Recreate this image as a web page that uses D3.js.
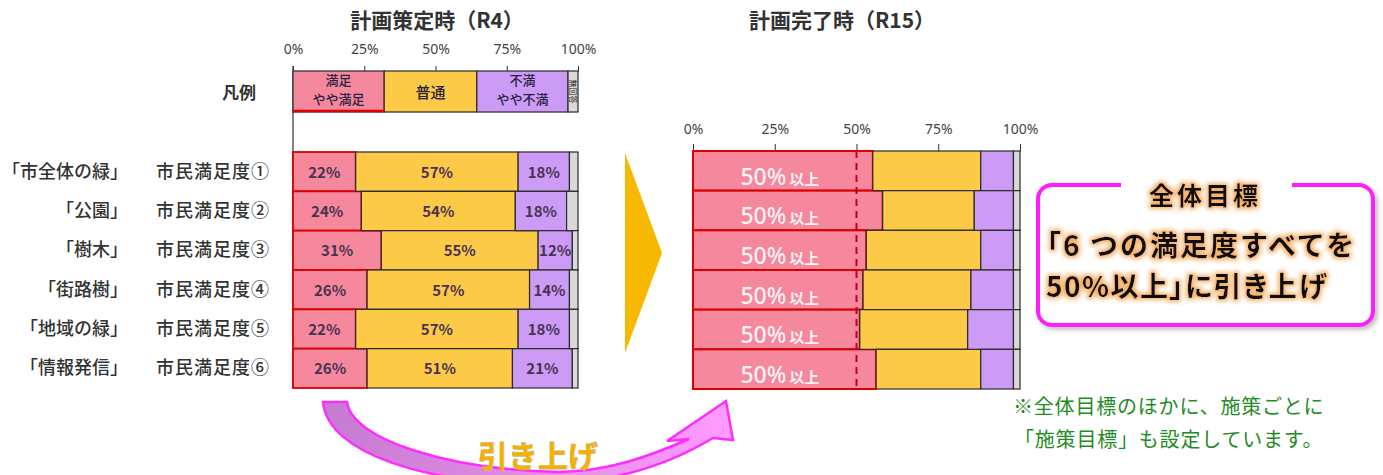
<!DOCTYPE html>
<html>
<head>
<meta charset="utf-8">
<script src="https://cdn.jsdelivr.net/npm/d3@7"></script>
<style>
  body { margin: 0; background: #fff; }
  text { font-family: "Noto Sans CJK JP", "Noto Sans", sans-serif; }
</style>
</head>
<body>
<svg id="canvas"></svg>
<script>
// rows
const categories = ["「市全体の緑」", "「公園」", "「樹木」", "「街路樹」", "「地域の緑」", "「情報発信」"];
const indexLabels = ["市民満足度①", "市民満足度②", "市民満足度③", "市民満足度④", "市民満足度⑤", "市民満足度⑥"];
const keys = ["satisfied", "neutral", "dissatisfied", "noAnswer"];
const legendNames = ["満足\nやや満足", "普通", "不満\nやや不満", "無回答"];
const legendShares = [32, 32.5, 32, 3.5];
const ticks = [0, 25, 50, 75, 100];

// R4 (計画策定時)
const r4Satisfied = [22, 24, 31, 26, 22, 26];
const r4Neutral = [57, 54, 55, 57, 57, 51];
const r4Dissatisfied = [18, 18, 12, 14, 18, 21];
const r4NoAnswer = [3, 4, 2, 3, 3, 2];

// R15 (計画完了時) target picture
const r15Satisfied = [55, 58, 53, 52, 51, 56];
const r15Neutral = [33, 28, 35, 33, 33, 32];
const r15Dissatisfied = [10, 12, 10, 13, 14, 10];
const r15NoAnswer = [2, 2, 2, 2, 2, 2];
const targetLine = 50;

const width = 1383, height = 475;
const svg = d3.select("#canvas").attr("width", width).attr("height", height);

const color = d3.scaleOrdinal().domain(keys).range(["#f5889d", "#fdca47", "#cb9bf6", "#d9d9d9"]);
const strokeOf = k => k === "satisfied" ? "#d80000" : "#2a2a2a";

const toRows = (a, b, c, d) => categories.map((cat, i) => ({
  cat, satisfied: a[i], neutral: b[i], dissatisfied: c[i], noAnswer: d[i]
}));
const stack = d3.stack().keys(keys);
const seriesR4 = stack(toRows(r4Satisfied, r4Neutral, r4Dissatisfied, r4NoAnswer));
const seriesR15 = stack(toRows(r15Satisfied, r15Neutral, r15Dissatisfied, r15NoAnswer));

// defs: glow, gradient
const defs = svg.append("defs");
const glow = defs.append("filter").attr("id", "glow").attr("x", "-10%").attr("y", "-30%").attr("width", "120%").attr("height", "160%");
glow.append("feMorphology").attr("in", "SourceAlpha").attr("operator", "dilate").attr("radius", 1.5).attr("result", "thick");
glow.append("feGaussianBlur").attr("in", "thick").attr("stdDeviation", 2).attr("result", "blur");
glow.append("feFlood").attr("flood-color", "#f7b26a");
glow.append("feComposite").attr("in2", "blur").attr("operator", "in").attr("result", "halo");
const gm = glow.append("feMerge");
gm.append("feMergeNode").attr("in", "halo");
gm.append("feMergeNode").attr("in", "SourceGraphic");

const shadow = defs.append("filter").attr("id", "shadow").attr("x", "-5%").attr("y", "-5%").attr("width", "115%").attr("height", "120%");
shadow.append("feDropShadow").attr("dx", 3).attr("dy", 3).attr("stdDeviation", 2).attr("flood-color", "#999").attr("flood-opacity", 0.6);

const grad = defs.append("linearGradient").attr("id", "arrowGrad").attr("x1", "0%").attr("x2", "100%");
grad.append("stop").attr("offset", "0%").attr("stop-color", "#c57ad0");
grad.append("stop").attr("offset", "100%").attr("stop-color", "#ff9cff");

// ---------- left chart (R4) ----------
const xL = d3.scaleLinear().domain([0, 100]).range([293, 578]);
const yL = d3.scaleBand().domain(categories).range([152, 388]);
const legendTop = 71, legendBottom = 112;

svg.append("text").attr("x", 437).attr("y", 28).attr("text-anchor", "middle")
  .attr("font-size", 21).attr("font-weight", "bold").attr("fill", "#333").text("計画策定時（R4）");

svg.append("line").attr("x1", xL(0)).attr("x2", xL(0)).attr("y1", legendTop - 5).attr("y2", 388)
  .attr("stroke", "#333").attr("stroke-width", 1.2);

const axL = svg.append("g").attr("transform", `translate(0,${legendTop})`)
  .call(d3.axisTop(xL).tickValues(ticks).tickFormat(d => d + "%").tickSize(5).tickPadding(12));
axL.select(".domain").attr("stroke", "#333");
axL.selectAll(".tick line").attr("stroke", "#333");
axL.selectAll(".tick text").attr("font-size", 14).attr("fill", "#444")
  .style("font-family", "'Noto Sans', sans-serif");

// legend bar
let acc = 0;
const legendData = legendShares.map((s, i) => { const o = { key: keys[i], name: legendNames[i], x0: acc, x1: acc + s }; acc += s; return o; });
const lg = svg.append("g");
lg.selectAll("rect").data(legendData).join("rect")
  .attr("x", d => xL(d.x0)).attr("width", d => xL(d.x1) - xL(d.x0))
  .attr("y", legendTop).attr("height", legendBottom - legendTop)
  .attr("fill", d => color(d.key)).attr("stroke", "#2a2a2a").attr("stroke-width", 1.2);
lg.append("line").attr("x1", xL(0)).attr("x2", xL(legendShares[0])).attr("y1", legendBottom - 1).attr("y2", legendBottom - 1)
  .attr("stroke", "#e00000").attr("stroke-width", 2.5);
legendData.slice(0, 3).forEach(d => {
  const lines = d.name.split("\n");
  const cx = (xL(d.x0) + xL(d.x1)) / 2;
  lines.forEach((ln, j) => {
    lg.append("text").attr("x", cx)
      .attr("y", lines.length === 1 ? (legendTop + legendBottom) / 2 + 6 : legendTop + 14 + j * 19)
      .attr("text-anchor", "middle").attr("font-size", lines.length === 1 ? 15 : 13)
      .attr("font-weight", 500).attr("fill", "#2a2040").text(ln);
  });
});
const naX = (xL(legendData[3].x0) + xL(legendData[3].x1)) / 2;
lg.append("text").attr("transform", `translate(${naX},${(legendTop + legendBottom) / 2}) rotate(90)`)
  .attr("text-anchor", "middle").attr("dy", 3).attr("font-size", 8).attr("fill", "#222").text(legendNames[3]);
svg.append("text").attr("x", 256).attr("y", 99).attr("text-anchor", "end")
  .attr("font-size", 17).attr("font-weight", "bold").attr("fill", "#333").text("凡例");

// row labels
svg.append("g").selectAll("text").data(categories).join("text")
  .attr("x", 128).attr("y", d => yL(d) + yL.bandwidth() / 2 + 6).attr("text-anchor", "end")
  .attr("font-size", 18).attr("font-weight", 500).attr("fill", "#333").text(d => d);
svg.append("g").selectAll("text").data(indexLabels).join("text")
  .attr("x", 156).attr("y", (d, i) => yL(categories[i]) + yL.bandwidth() / 2 + 6)
  .attr("font-size", 18).attr("font-weight", 500).attr("fill", "#333").attr("letter-spacing", 1).text(d => d);

// R4 bars
const barsL = svg.append("g");
seriesR4.forEach(layer => {
  const k = layer.key;
  barsL.append("g").selectAll("rect").data(layer).join("rect")
    .attr("x", d => xL(d[0])).attr("width", d => xL(d[1]) - xL(d[0]))
    .attr("y", d => yL(d.data.cat)).attr("height", yL.bandwidth())
    .attr("fill", color(k)).attr("stroke", strokeOf(k)).attr("stroke-width", k === "satisfied" ? 1.8 : 1.2);
});
seriesR4.filter(l => l.key !== "noAnswer").forEach(layer => {
  barsL.append("g").selectAll("text").data(layer).join("text")
    .attr("x", d => (xL(d[0]) + xL(d[1])) / 2).attr("y", d => yL(d.data.cat) + yL.bandwidth() / 2 + 6)
    .attr("text-anchor", "middle").attr("font-size", 15).attr("font-weight", "bold")
    .attr("fill", "#4a3352").text(d => (d[1] - d[0]) + "%");
});

// big yellow arrow
svg.append("path").attr("d", "M625,153 L662,253 L625,353 Z").attr("fill", "#f7b900");

// ---------- right chart (R15) ----------
const xR = d3.scaleLinear().domain([0, 100]).range([693, 1020]);
const yR = d3.scaleBand().domain(categories).range([151, 389]);

svg.append("text").attr("x", 842).attr("y", 28).attr("text-anchor", "middle")
  .attr("font-size", 21).attr("font-weight", "bold").attr("fill", "#333").text("計画完了時（R15）");

const axR = svg.append("g").attr("transform", `translate(0,${yR.range()[0]})`)
  .call(d3.axisTop(xR).tickValues(ticks).tickFormat(d => d + "%").tickSize(7).tickPadding(10));
axR.select(".domain").attr("stroke", "#333");
axR.selectAll(".tick line").attr("stroke", "#333");
axR.selectAll(".tick text").attr("font-size", 14).attr("fill", "#444")
  .style("font-family", "'Noto Sans', sans-serif");

const barsR = svg.append("g");
seriesR15.forEach(layer => {
  const k = layer.key;
  barsR.append("g").selectAll("rect").data(layer).join("rect")
    .attr("x", d => xR(d[0])).attr("width", d => xR(d[1]) - xR(d[0]))
    .attr("y", d => yR(d.data.cat)).attr("height", yR.bandwidth())
    .attr("fill", color(k)).attr("stroke", strokeOf(k)).attr("stroke-width", k === "satisfied" ? 2 : 1.2);
});
svg.append("line").attr("x1", xR(targetLine)).attr("x2", xR(targetLine))
  .attr("y1", yR.range()[0]).attr("y2", yR.range()[1])
  .attr("stroke", "#c0002a").attr("stroke-width", 2).attr("stroke-dasharray", "7 5");
const lbl = barsR.append("g").selectAll("text").data(categories).join("text")
  .attr("x", xR(14.5)).attr("y", d => yR(d) + yR.bandwidth() - 6)
  .attr("fill", "#fff").attr("fill-opacity", 0.92).style("font-family", "'Noto Sans', sans-serif");
lbl.append("tspan").attr("font-size", 23).attr("font-weight", 500).text("50%");
lbl.append("tspan").attr("font-size", 15).attr("font-weight", "bold").attr("dx", 3)
  .style("font-family", "'Noto Sans CJK JP', sans-serif").text("以上");

// ---------- callout box ----------
const box = svg.append("g");
box.append("rect").attr("x", 1038).attr("y", 185).attr("width", 335).attr("height", 140).attr("rx", 14)
  .attr("fill", "#fff").attr("stroke", "#ff1aff").attr("stroke-width", 4).attr("filter", "url(#shadow)");
box.append("rect").attr("x", 1121).attr("y", 178).attr("width", 171).attr("height", 14).attr("fill", "#fff");
box.append("text").attr("x", 1205).attr("y", 205).attr("text-anchor", "middle").attr("font-size", 25)
  .attr("font-weight", "bold").attr("letter-spacing", 3).attr("fill", "#111").attr("filter", "url(#glow)").text("全体目標");
box.append("text").attr("x", 1033).attr("y", 256).attr("font-size", 28).attr("letter-spacing", 2)
  .attr("font-weight", "bold").attr("fill", "#111").attr("filter", "url(#glow)").text("「6 つの満足度すべてを");
box.append("text").attr("x", 1046).attr("y", 297).attr("font-size", 28).attr("letter-spacing", 1.5)
  .attr("font-weight", "bold").attr("fill", "#111").attr("filter", "url(#glow)")
  .style("font-feature-settings", "'palt'").text("50%以上」に引き上げ");

// note
svg.append("text").attr("x", 1013).attr("y", 414).attr("font-size", 20).attr("letter-spacing", 0.8)
  .attr("fill", "#1f8c24").text("※全体目標のほかに、施策ごとに");
svg.append("text").attr("x", 1014).attr("y", 447).attr("font-size", 20).attr("letter-spacing", 0.8)
  .attr("fill", "#1f8c24").text("「施策目標」も設定しています。");

// ---------- curved arrow ----------
svg.append("path")
  .attr("d", "M323,402 L347,402 C352,440 450,470 560,472 C610,471 650,456 689,439 L667,441 L726,401 L733,440 L713,438 C660,470 600,484 540,484 C430,484 328,455 323,402 Z")
  .attr("fill", "url(#arrowGrad)").attr("stroke", "#ff2cff").attr("stroke-width", 2.5);
svg.append("text").attr("x", 538).attr("y", 467).attr("text-anchor", "middle").attr("font-size", 30)
  .attr("font-weight", "bold").attr("fill", "#f5b100").attr("stroke", "#bbb").attr("stroke-width", 0.8)
  .attr("paint-order", "stroke").text("引き上げ");
</script>
</body>
</html>
